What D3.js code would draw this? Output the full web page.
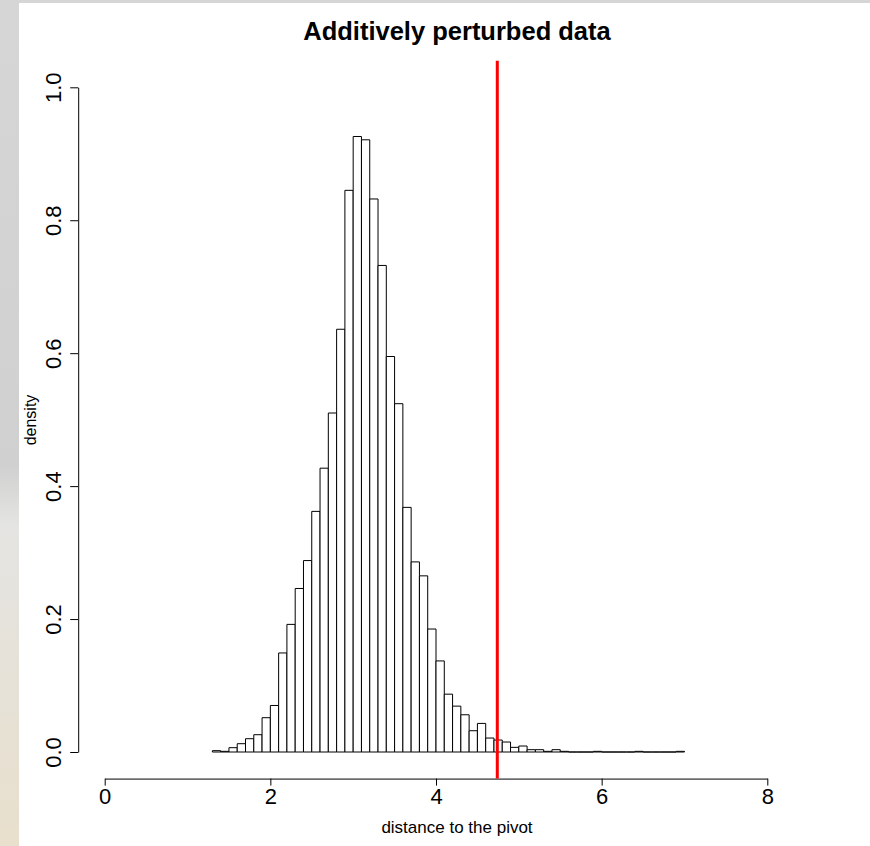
<!DOCTYPE html>
<html>
<head>
<meta charset="utf-8">
<script src="https://cdn.jsdelivr.net/npm/d3@7/dist/d3.min.js"></script>
<style>
html, body { margin: 0; padding: 0; }
body { width: 870px; height: 846px; overflow: hidden; }
svg { display: block; font-family: "Liberation Sans", Arial, Helvetica, sans-serif; }
</style>
</head>
<body>
<svg width="870" height="846"></svg>
<script>
// histogram breaks (bin edges) and the density of each bin
var breaks = [1.3, 1.4, 1.5, 1.6, 1.7, 1.8, 1.9, 2.0, 2.1, 2.2, 2.3, 2.4, 2.5, 2.6, 2.7, 2.8, 2.9,
              3.0, 3.1, 3.2, 3.3, 3.4, 3.5, 3.6, 3.7, 3.8, 3.9, 4.0, 4.1, 4.2, 4.3, 4.4, 4.5,
              4.6, 4.7, 4.8, 4.9, 5.0, 5.1, 5.2, 5.3, 5.4, 5.5, 5.6, 5.7, 5.8, 5.9, 6.0, 6.1,
              6.2, 6.3, 6.4, 6.5, 6.6, 6.7, 6.8, 6.9, 7.0];

var density = [0.002, 0.001, 0.0065, 0.0125, 0.020, 0.026, 0.0516, 0.070, 0.149, 0.192,
               0.246, 0.288, 0.362, 0.427, 0.510, 0.636, 0.845, 0.926, 0.921, 0.832,
               0.732, 0.595, 0.524, 0.368, 0.286, 0.265, 0.185, 0.137, 0.087, 0.069,
               0.056, 0.032, 0.043, 0.021, 0.018, 0.015, 0.007, 0.009, 0.0035, 0.0035,
               0.001, 0.0035, 0.001, 0, 0, 0, 0.001, 0, 0, 0,
               0, 0.001, 0, 0, 0, 0, 0.001];

var xTicks = [0, 2, 4, 6, 8];
var yTicks = [0, 0.2, 0.4, 0.6, 0.8, 1.0];
var pivot = 4.74;   // red cut-off line

var svg = d3.select("svg");

// background: grey strip from the screenshot, white figure panel
var defs = svg.append("defs");
var grad = defs.append("linearGradient")
    .attr("id", "bg").attr("x1", 0).attr("y1", 0).attr("x2", 0).attr("y2", 1);
grad.append("stop").attr("offset", "0%").attr("stop-color", "#d6d6d6");
grad.append("stop").attr("offset", "55%").attr("stop-color", "#d0d0d0");
grad.append("stop").attr("offset", "62%").attr("stop-color", "#e4e4e2");
grad.append("stop").attr("offset", "100%").attr("stop-color", "#e8dfcc");
svg.append("rect").attr("width", 870).attr("height", 846).attr("fill", "url(#bg)");
svg.append("rect").attr("x", 19).attr("y", 3).attr("width", 851).attr("height", 843).attr("fill", "#fff");

var x = d3.scaleLinear().domain([0, 8]).range([104.7, 767.3]),
    y = d3.scaleLinear().domain([0, 1]).range([752, 87.3]);

// bars, drawn as closed paths so empty bins still show on the baseline
var bins = density.map(function(d, i) { return {x0: breaks[i], x1: breaks[i + 1], d: d}; });

svg.append("g")
    .selectAll("path")
    .data(bins)
    .enter().append("path")
    .attr("d", function(b) {
        return "M" + x(b.x0) + "," + y(0) + "V" + y(b.d) + "H" + x(b.x1) + "V" + y(0) + "Z";
    })
    .attr("fill", "#fff")
    .attr("stroke", "#000")
    .attr("stroke-width", 1);

// x axis (R style: line only between first and last tick)
var xAxis = svg.append("g")
    .attr("transform", "translate(0," + y(-0.04) + ")")
    .call(d3.axisBottom(x).tickValues(xTicks).tickFormat(d3.format("d")).tickSize(7).tickSizeOuter(0));
xAxis.select(".domain").attr("stroke", "#000");
xAxis.selectAll("line").attr("stroke", "#000");
xAxis.selectAll("text")
    .attr("y", 25).attr("dy", 0)
    .attr("fill", "#000")
    .style("font-size", "22px")
    .style("font-family", "Liberation Sans, Arial, sans-serif");

// y axis with labels parallel to it
var yAxis = svg.append("g")
    .attr("transform", "translate(" + x(-0.04 * 8) + ",0)")
    .call(d3.axisLeft(y).tickValues(yTicks).tickFormat(d3.format(".1f")).tickSize(8).tickSizeOuter(0));
yAxis.select(".domain").attr("stroke", "#000");
yAxis.selectAll("line").attr("stroke", "#000");
yAxis.selectAll("text")
    .attr("transform", "rotate(-90)")
    .attr("x", 0).attr("y", -17).attr("dy", 0)
    .attr("text-anchor", "middle")
    .attr("fill", "#000")
    .style("font-size", "22px")
    .style("font-family", "Liberation Sans, Arial, sans-serif");

// cut-off line across the plot region
svg.append("line")
    .attr("x1", x(pivot)).attr("x2", x(pivot))
    .attr("y1", y(1.04)).attr("y2", y(-0.04))
    .attr("stroke", "#ff0000")
    .attr("stroke-width", 3);

// titles
svg.append("text")
    .attr("x", 457).attr("y", 40)
    .attr("text-anchor", "middle")
    .style("font-weight", "bold")
    .style("font-size", "25.5px")
    .text("Additively perturbed data");

svg.append("text")
    .attr("x", 457).attr("y", 833)
    .attr("text-anchor", "middle")
    .style("font-size", "17px")
    .text("distance to the pivot");

svg.append("text")
    .attr("transform", "translate(36,420) rotate(-90)")
    .attr("text-anchor", "middle")
    .style("font-size", "16px")
    .text("density");
</script>
</body>
</html>
